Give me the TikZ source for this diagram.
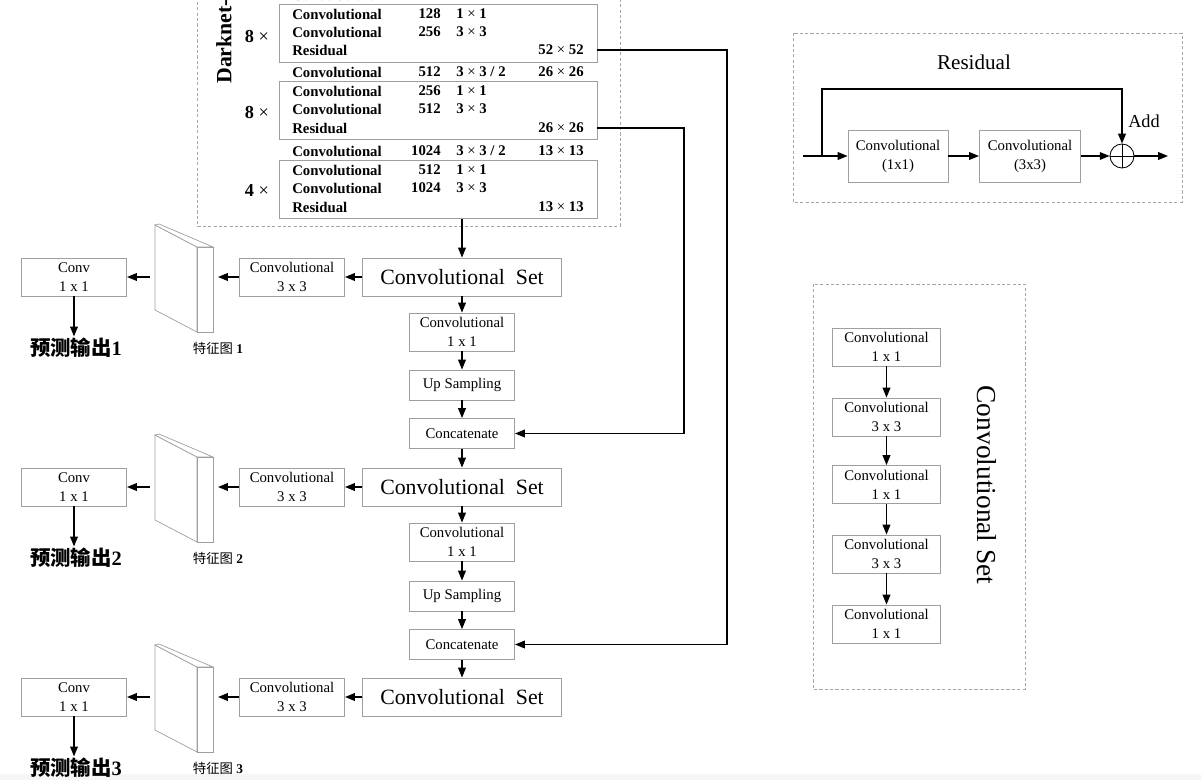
\documentclass[tikz,border=0pt]{standalone}
\usepackage{fontspec}
\setmainfont{Liberation Serif}
\newfontfamily\cjk{Noto Sans CJK SC}
\usetikzlibrary{arrows.meta,positioning,calc}
\newcommand\tx{\ {\mdseries ×}\ }
\tikzset{
  % 灰色边框的方框
  box/.style={draw=gray!75, line width=0.6pt, fill=white, align=center,
    inner sep=0pt, font=\fontsize{10.5}{13.5}\selectfont},
  conv/.style={box, minimum width=2.63cm, minimum height=0.95cm},
  slim/.style={box, minimum width=2.63cm, minimum height=0.75cm},
  convset/.style={box, minimum width=4.98cm, minimum height=0.95cm,
    font=\fontsize{15.5}{18}\selectfont},
  % Darknet-53 的残差块
  blk/.style={draw=gray!75, line width=0.6pt, minimum width=7.95cm,
    minimum height=1.43cm},
  dashbox/.style={draw=gray!70, line width=0.5pt, dash pattern=on 2.2pt off 1.6pt},
  row/.style={inner sep=0pt, font=\fontsize{10.5}{12}\bfseries\selectfont},
  % 特征图的立体块
  slab/.style={draw=gray!75, line width=0.5pt, fill=white},
  % 箭头样式
  arr/.style={-{Triangle[length=7pt,width=5.5pt]}, line width=0.9pt},
}

\begin{document}
\begin{tikzpicture}[x=0.025cm, y=-0.025cm]
  \useasboundingbox (0,0) rectangle (1201,780);
  \fill[gray!7] (0,774) rectangle (1201,780);

  % ---------------- Darknet-53 ----------------
  \draw[dashbox] (197,-30) rectangle (620,226);
  \node[rotate=90, anchor=west, inner sep=0pt,
        font=\fontsize{15.5}{18}\bfseries\selectfont] (dntitle) at (224,84) {Darknet-53};

  \node[blk] (blk1) at (438,33.5) {};
  \node[blk] (blk2) at (438,110.5) {};
  \node[blk] (blk3) at (438,189.5) {};

  \node[font=\fontsize{13}{15}\bfseries\selectfont] (rep1) at (257,37) {8{\mdseries\ ×}};
  \node[font=\fontsize{13}{15}\bfseries\selectfont] (rep2) at (257,113) {8{\mdseries\ ×}};
  \node[font=\fontsize{13}{15}\bfseries\selectfont] (rep3) at (257,190) {4{\mdseries\ ×}};

  \foreach \y/\a/\b/\c/\d [count=\i] in {
      -5/Convolutional/256/{3\tx 3 / 2}/52\tx 52,
      14/Convolutional/128/1\tx 1/{},
      32/Convolutional/256/3\tx 3/{},
      50/Residual/{}/{}/52\tx 52,
      72/Convolutional/512/{3\tx 3 / 2}/26\tx 26,
      91/Convolutional/256/1\tx 1/{},
      109/Convolutional/512/3\tx 3/{},
      128/Residual/{}/{}/26\tx 26,
      151/Convolutional/1024/{3\tx 3 / 2}/13\tx 13,
      170/Convolutional/512/1\tx 1/{},
      188/Convolutional/1024/3\tx 3/{},
      207/Residual/{}/{}/13\tx 13} {
    \node[row, anchor=west] (n\i) at (292,\y) {\a};
    \node[row, anchor=east] (f\i) at (441,\y) {\b};
    \node[row, anchor=west] (k\i) at (456,\y) {\c};
    \node[row, anchor=east] (s\i) at (584,\y) {\d};
  }

  % ---------------- 主干 ----------------
  \node[convset] (cs1) at (462,277) {Convolutional\ \ Set};
  \node[conv] (c1) at (462,332) {Convolutional\\1 x 1};
  \node[slim] (up1) at (462,385) {Up Sampling};
  \node[slim] (cat1) at (462,433.5) {Concatenate};
  \node[convset] (cs2) at (462,487) {Convolutional\ \ Set};
  \node[conv] (c2) at (462,542) {Convolutional\\1 x 1};
  \node[slim] (up2) at (462,596) {Up Sampling};
  \node[slim] (cat2) at (462,644.5) {Concatenate};
  \node[convset] (cs3) at (462,697) {Convolutional\ \ Set};

  \draw[arr] (cs1.north |- blk3.south) -- (cs1);
  \draw[arr] (cs1) -- (c1);
  \draw[arr] (c1) -- (up1);
  \draw[arr] (up1) -- (cat1);
  \draw[arr] (cat1) -- (cs2);
  \draw[arr] (cs2) -- (c2);
  \draw[arr] (c2) -- (up2);
  \draw[arr] (up2) -- (cat2);
  \draw[arr] (cat2) -- (cs3);

  % 跨层连接
  \coordinate (turn1) at (727,50);
  \coordinate (turn2) at (684,128);
  \draw[arr] (blk1.east |- s4) -- (turn1) |- (cat2.east);
  \draw[arr] (blk2.east |- s8) -- (turn2) |- (cat1.east);

  % ---------------- 三个输出分支 ----------------
  \foreach \i/\dy in {1/0, 2/210, 3/420} {
    \node[conv] (k3\i) at (292,{277+\dy}) {Convolutional\\3 x 3};
    \node[conv] (out\i) at (74,{277+\dy}) {Conv\\1 x 1};
    \begin{scope}[shift={(0,\dy)}]
      \filldraw[slab] (155,225) -- (197,247) -- (197,332) -- (155,310) -- cycle;
      \filldraw[slab] (155,225) -- (159,224) -- (213,247) -- (197,247) -- cycle;
      \filldraw[slab] (197,247) rectangle (213,332);
    \end{scope}
    \coordinate (fmr\i) at (218,{277+\dy});
    \coordinate (fml\i) at (150,{277+\dy});
    \node[font=\fontsize{14.5}{16}\bfseries\selectfont, inner sep=0pt] (pred\i)
      at (76,{348+\dy}) {{\cjk 预测输出}\i};
    \node[font=\fontsize{9.5}{11}\selectfont, inner sep=0pt] (fmap\i)
      at (218,{348+\dy}) {{\cjk 特征图} \textbf{\i}};
    \draw[arr] (cs\i) -- (k3\i);
    \draw[arr] (k3\i) -- (fmr\i);
    \draw[arr] (fml\i) -- (out\i);
    \draw[arr] (out\i.south) -- ++(0,40) coordinate (pt\i);
  }

  % ---------------- Residual ----------------
  \draw[dashbox] (793,33) rectangle (1182,202);
  \node[font=\fontsize{15}{18}\selectfont] (restitle) at (974,62) {Residual};
  \node[box, minimum width=2.5cm, minimum height=1.3cm] (ra) at (898,156)
    {Convolutional\\(1x1)};
  \node[box, minimum width=2.53cm, minimum height=1.3cm] (rb) at (1030,156)
    {Convolutional\\(3x3)};
  \node[draw, circle, line width=0.6pt, minimum size=0.6cm, inner sep=0pt] (add) at (1122,156) {};
  \draw[line width=0.6pt] (add.north) -- (add.south) (add.west) -- (add.east);
  \node[font=\fontsize{13}{15}\selectfont] (addlab) at (1144,121) {Add};
  \coordinate (rin) at (803,156);
  \coordinate (rsplit) at (822,156);
  \coordinate (rtop) at (822,89);
  \coordinate (rout) at (1168,156);
  \draw[arr] (rin) -- (ra);
  \draw[arr] (ra) -- (rb);
  \draw[arr] (rb) -- (add);
  \draw[arr] (add) -- (rout);
  \draw[arr] (rsplit) -- (rtop) -| (add.north);

  % ---------------- Convolutional Set ----------------
  \draw[dashbox] (813,284) rectangle (1025,689);
  \node[conv, minimum width=2.68cm] (s1) at (886.5,347) {Convolutional\\1 x 1};
  \node[conv, minimum width=2.68cm] (s2) at (886.5,417) {Convolutional\\3 x 3};
  \node[conv, minimum width=2.68cm] (s3) at (886.5,484.5) {Convolutional\\1 x 1};
  \node[conv, minimum width=2.68cm] (s4) at (886.5,554) {Convolutional\\3 x 3};
  \node[conv, minimum width=2.68cm] (s5) at (886.5,624) {Convolutional\\1 x 1};
  \draw[arr] (s1) -- (s2);
  \draw[arr] (s2) -- (s3);
  \draw[arr] (s3) -- (s4);
  \draw[arr] (s4) -- (s5);
  \node[rotate=-90, font=\fontsize{19.5}{22}\selectfont] (settitle) at (987,485) {Convolutional Set};
\end{tikzpicture}
\end{document}
